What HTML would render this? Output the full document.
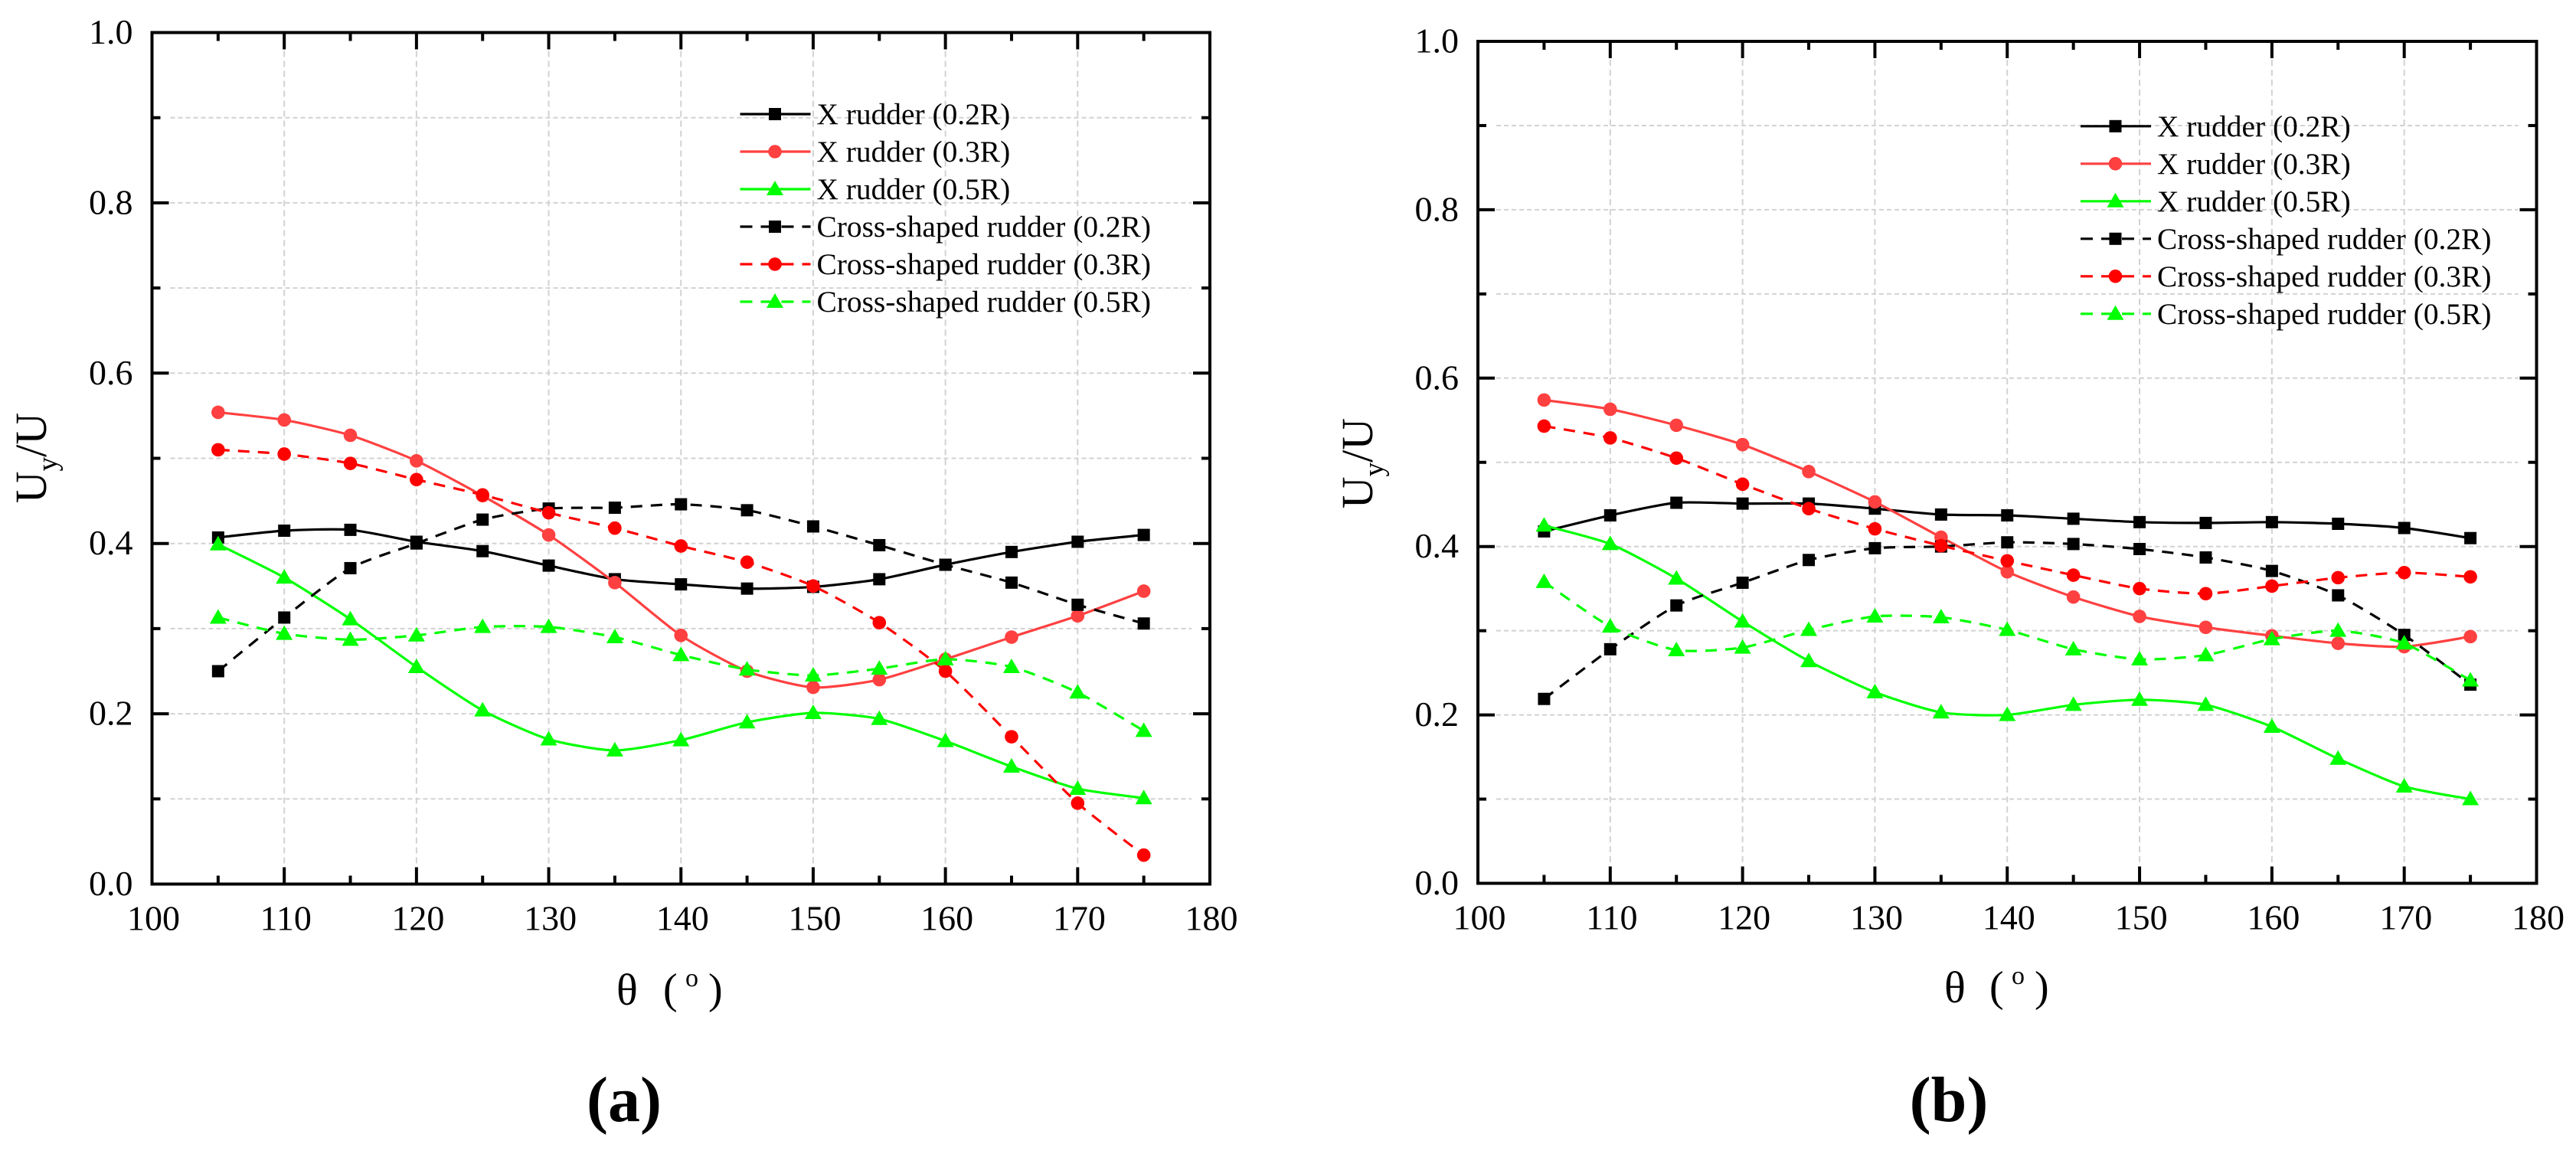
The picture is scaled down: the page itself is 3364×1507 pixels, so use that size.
<!DOCTYPE html>
<html lang="en">
<head>
<meta charset="utf-8">
<title>Uy/U versus theta for X and cross-shaped rudders</title>
<style>
html,body{margin:0;padding:0;background:#fff;}
#figure{display:block;width:3364px;height:1507px;}
text{font-family:"Liberation Serif",serif;fill:#000;}
</style>
</head>
<body>
<svg id="figure" xmlns="http://www.w3.org/2000/svg" width="3364" height="1507" viewBox="0 0 3364 1507"></svg>
<script>
const angles = [105,110,115,120,125,130,135,140,145,150,155,160,165,170,175];
const xTickValues = [100,110,120,130,140,150,160,170,180];
const yTickValues = [0,0.2,0.4,0.6,0.8,1];
const xMinorValues = [105,115,125,135,145,155,165,175];
const yMinorValues = [0.1,0.3,0.5,0.7,0.9];
const seriesNames = ["X rudder (0.2R)","X rudder (0.3R)","X rudder (0.5R)","Cross-shaped rudder (0.2R)","Cross-shaped rudder (0.3R)","Cross-shaped rudder (0.5R)"];

const panelAXRudder02 = [.407,.415,.416,.402,.391,.374,.358,.352,.347,.349,.358,.375,.390,.402,.410];
const panelAXRudder03 = [.554,.545,.527,.497,.456,.410,.354,.292,.250,.231,.240,.264,.290,.315,.344];
const panelAXRudder05 = [.399,.360,.311,.255,.204,.170,.157,.169,.190,.201,.194,.168,.138,.112,.101];
const panelACross02 = [.250,.313,.371,.400,.428,.441,.442,.446,.439,.420,.398,.375,.354,.328,.306];
const panelACross03 = [.510,.505,.494,.475,.457,.436,.418,.397,.378,.350,.307,.250,.173,.095,.034];
const panelACross05 = [.313,.294,.287,.292,.302,.302,.290,.269,.252,.245,.253,.264,.255,.225,.180];

const panelBXRudder02 = [.418,.437,.452,.451,.451,.445,.438,.437,.433,.429,.428,.429,.427,.422,.410];
const panelBXRudder03 = [.574,.563,.544,.521,.489,.453,.411,.370,.340,.317,.304,.294,.285,.281,.293];
const panelBXRudder05 = [.425,.403,.362,.311,.264,.227,.203,.200,.212,.218,.212,.186,.148,.115,.100];
const panelBCross02 = [.219,.278,.330,.357,.384,.398,.400,.405,.403,.397,.387,.371,.342,.295,.236];
const panelBCross03 = [.543,.529,.505,.474,.445,.421,.401,.383,.366,.350,.344,.353,.363,.369,.364];
const panelBCross05 = [.358,.305,.277,.280,.301,.317,.316,.301,.278,.266,.271,.290,.300,.285,.241];

const svg = document.getElementById('figure');
const NS = 'http://www.w3.org/2000/svg';
const serieStyles = [
  {color:'#000000',dash:null,marker:'square'},
  {color:'#ff4040',dash:null,marker:'circle'},
  {color:'#00ff00',dash:null,marker:'triangle'},
  {color:'#000000',dash:'15 11',marker:'square'},
  {color:'#ff0000',dash:'15 11',marker:'circle'},
  {color:'#00ff00',dash:'15 11',marker:'triangle'}
];

function make(tag, attrs, parent) {
  const node = document.createElementNS(NS, tag);
  for (const k in attrs) node.setAttribute(k, attrs[k]);
  parent.appendChild(node);
  return node;
}
function xScale(p, v) { return p.left + (v - 100) / 80 * (p.right - p.left); }
function yScale(p, v) { return p.bottom - v * (p.bottom - p.top); }
function splinePath(pts) {
  let d = 'M' + pts[0][0].toFixed(2) + ' ' + pts[0][1].toFixed(2);
  for (let i = 0; i < pts.length - 1; i++) {
    const p0 = pts[Math.max(i - 1, 0)], p1 = pts[i], p2 = pts[i + 1], p3 = pts[Math.min(i + 2, pts.length - 1)];
    const c1x = p1[0] + (p2[0] - p0[0]) / 9, c1y = p1[1] + (p2[1] - p0[1]) / 9;
    const c2x = p2[0] - (p3[0] - p1[0]) / 9, c2y = p2[1] - (p3[1] - p1[1]) / 9;
    d += 'C' + c1x.toFixed(2) + ' ' + c1y.toFixed(2) + ' ' + c2x.toFixed(2) + ' ' + c2y.toFixed(2) + ' ' + p2[0].toFixed(2) + ' ' + p2[1].toFixed(2);
  }
  return d;
}
function drawMarker(kind, cx, cy, color, parent) {
  let m;
  if (kind === 'square') {
    m = make('rect', {x: cx - 8, y: cy - 8, width: 16, height: 16, fill: color}, parent);
  } else if (kind === 'circle') {
    m = make('circle', {cx: cx, cy: cy, r: 8.8, fill: color}, parent);
  } else {
    m = make('polygon', {points: (cx - 11) + ',' + (cy + 8) + ' ' + (cx + 11) + ',' + (cy + 8) + ' ' + cx + ',' + (cy - 11), fill: color}, parent);
  }
  
  
}
function drawPanel(p) {
  const g = make('g', {}, svg);
  
  

  // gridlines
  xTickValues.slice(1, -1).forEach(function (v) {
    const l = make('line', {x1: xScale(p, v), x2: xScale(p, v), y1: p.top + 24, y2: p.bottom - 24, stroke: '#d2d2d2', 'stroke-width': 2, 'stroke-dasharray': '8 5'}, g);
    
    
  });
  yMinorValues.concat(yTickValues.slice(1, -1)).forEach(function (v) {
    const l = make('line', {x1: p.left + 24, x2: p.right - 24, y1: yScale(p, v), y2: yScale(p, v), stroke: '#d2d2d2', 'stroke-width': 2, 'stroke-dasharray': '6 4'}, g);
    
    
  });

  // series
  p.series.forEach(function (vals, i) {
    const st = serieStyles[i];
    const pts = vals.map(function (v, j) { return [xScale(p, angles[j]), yScale(p, v)]; });
    const sg = make('g', {}, g);
    
    
    const path = make('path', {d: splinePath(pts), fill: 'none', stroke: st.color, 'stroke-width': 3.2}, sg);
    if (st.dash) path.setAttribute('stroke-dasharray', st.dash);
    
    
    pts.forEach(function (pt) { drawMarker(st.marker, pt[0], pt[1], st.color, sg); });
  });

  // ticks
  function tick(x1, y1, x2, y2, name) {
    const t = make('line', {x1: x1, y1: y1, x2: x2, y2: y2, stroke: '#000', 'stroke-width': 4}, g);
    
    
  }
  xTickValues.slice(1, -1).forEach(function (v) {
    tick(xScale(p, v), p.bottom, xScale(p, v), p.bottom - 22, 'x-major-tick');
    tick(xScale(p, v), p.top, xScale(p, v), p.top + 22, 'x-major-tick-top');
  });
  xMinorValues.forEach(function (v) {
    tick(xScale(p, v), p.bottom, xScale(p, v), p.bottom - 11, 'x-minor-tick');
    tick(xScale(p, v), p.top, xScale(p, v), p.top + 11, 'x-minor-tick-top');
  });
  yTickValues.slice(1, -1).forEach(function (v) {
    tick(p.left, yScale(p, v), p.left + 22, yScale(p, v), 'y-major-tick');
    tick(p.right, yScale(p, v), p.right - 22, yScale(p, v), 'y-major-tick-right');
  });
  yMinorValues.forEach(function (v) {
    tick(p.left, yScale(p, v), p.left + 11, yScale(p, v), 'y-minor-tick');
    tick(p.right, yScale(p, v), p.right - 11, yScale(p, v), 'y-minor-tick-right');
  });

  // frame
  const frame = make('rect', {x: p.left, y: p.top, width: p.right - p.left, height: p.bottom - p.top, fill: 'none', stroke: '#000', 'stroke-width': 4}, g);
  
  

  // tick labels
  xTickValues.forEach(function (v) {
    const t = make('text', {x: xScale(p, v) + 2, y: p.bottom + 60, 'font-size': 46, 'text-anchor': 'middle'}, g);
    t.textContent = String(v);
    
    
  });
  yTickValues.forEach(function (v) {
    const t = make('text', {x: p.left - 25, y: yScale(p, v) + 14.5, 'font-size': 46, 'text-anchor': 'end'}, g);
    t.textContent = v.toFixed(1);
    
    
  });

  // y axis title
  const yt = make('text', {x: p.yTitleX, y: p.yTitleY, 'font-size': 58, 'text-anchor': 'middle', transform: 'rotate(-90 ' + p.yTitleX + ' ' + p.yTitleY + ')'}, g);
  
  
  yt.appendChild(document.createTextNode('U'));
  const sub = make('tspan', {'font-size': 37, dy: 14}, yt);
  sub.textContent = 'y';
  const rest = make('tspan', {dy: -14}, yt);
  rest.textContent = '/U';

  // x axis title
  const xt = make('text', {x: p.xTitleX, y: p.xTitleY, 'font-size': 58}, g);
  
  
  xt.textContent = 'θ';
  const xuL = make('text', {x: p.xUnitX, y: p.xTitleY - 2, 'font-size': 56}, g);
  
  
  xuL.textContent = '(';
  const deg = make('text', {x: p.xUnitX + 29, y: p.xTitleY - 24, 'font-size': 34}, g);
  
  
  deg.textContent = 'o';
  const xuR = make('text', {x: p.xUnitX + 59, y: p.xTitleY - 2, 'font-size': 56}, g);
  
  
  xuR.textContent = ')';

  // legend
  const lg = make('g', {}, g);
  
  
  seriesNames.forEach(function (name, i) {
    const st = serieStyles[i], y = p.legendY + i * 49;
    const entry = make('g', {}, lg);
    
    
    const ln = make('line', {x1: p.legendX, x2: p.legendX + 92, y1: y, y2: y, stroke: st.color, 'stroke-width': 3.2}, entry);
    if (st.dash) ln.setAttribute('stroke-dasharray', '16 11');
    
    
    drawMarker(st.marker, p.legendX + 45.5, y, st.color, entry);
    const t = make('text', {x: p.legendX + 100, y: y + 13, 'font-size': 39.4}, entry);
    t.textContent = name;
    
    
  });

  // caption
  const cap = make('text', {x: p.captionX, y: 1464, 'font-size': 84, 'font-weight': 'bold', 'text-anchor': 'middle'}, g);
  
  
  cap.textContent = '(' + p.id + ')';
}

drawPanel({id: 'a', left: 198.5, right: 1580, top: 42.5, bottom: 1154.5,
  yTitleX: 60, yTitleY: 598, xTitleX: 805, xTitleY: 1312, xUnitX: 866, legendX: 966.5, legendY: 149, captionX: 815,
  series: [panelAXRudder02, panelAXRudder03, panelAXRudder05, panelACross02, panelACross03, panelACross05]});
drawPanel({id: 'b', left: 1930, right: 3312.5, top: 54, bottom: 1153.5,
  yTitleX: 1792, yTitleY: 605, xTitleX: 2539, xTitleY: 1309, xUnitX: 2598, legendX: 2717, legendY: 164.8, captionX: 2545,
  series: [panelBXRudder02, panelBXRudder03, panelBXRudder05, panelBCross02, panelBCross03, panelBCross05]});
</script>
</body>
</html>
